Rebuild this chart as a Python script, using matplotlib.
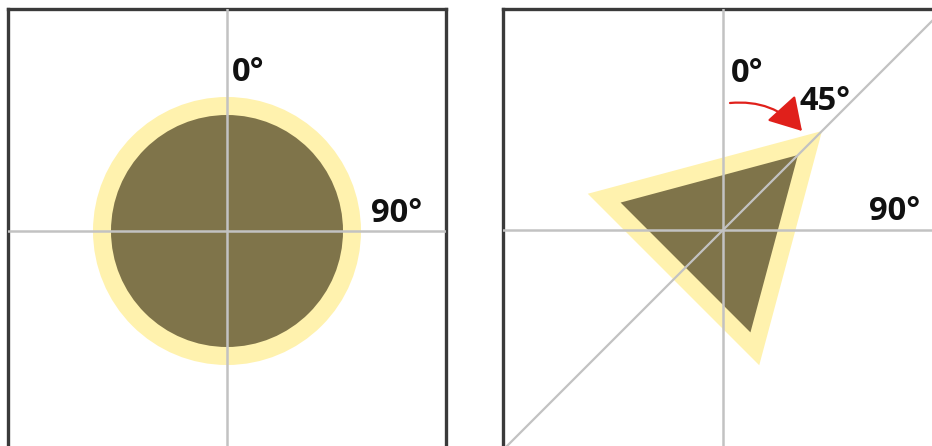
import numpy as np
import matplotlib
matplotlib.use("Agg")
import matplotlib.pyplot as plt
from matplotlib.patches import Circle, Polygon, FancyArrowPatch

# shape sizes (pixels)
circle_outer_r = 134
circle_inner_r = 116
tri_outer_r = 140
tri_inner_r = 106
tri_rotation = 45  # degrees, clockwise from 0° (up)

# labels: text, x, y (offset from panel centre)
left_labels = [("0°", 5, 150), ("90°", 144, 9)]
right_labels = [("0°", 8, 148), ("45°", 76, 120), ("90°", 146, 10)]

dark = "#7f744a"
light = "#fff2ae"
grid_c = "#c2c2c2"
frame_c = "#3a3a3a"


def triangle(r, rot):
    # vertex angles measured clockwise from up
    ang = np.radians(np.array([0, 120, 240]) + rot)
    return np.column_stack([r * np.sin(ang), r * np.cos(ang)])


def setup(ax, xlim, ylim):
    ax.set_xlim(*xlim)
    ax.set_ylim(*ylim)
    ax.set_xticks([])
    ax.set_yticks([])
    for s in ["left", "right", "top"]:
        ax.spines[s].set_color(frame_c)
        ax.spines[s].set_linewidth(2.4)
    ax.spines["bottom"].set_visible(False)
    ax.axhline(0, color=grid_c, lw=1.8, zorder=3)
    ax.axvline(0, color=grid_c, lw=1.8, zorder=3)


fig = plt.figure(figsize=(9.32, 4.46), dpi=100)
W, H = 932, 446

# left panel
ax1 = fig.add_axes([8 / W, 0, 438 / W, 437 / H])
setup(ax1, (-219, 219), (-215, 222))
ax1.add_patch(Circle((0, 0), circle_outer_r, color=light, lw=0, zorder=1))
ax1.add_patch(Circle((0, 0), circle_inner_r, color=dark, lw=0, zorder=2))
for t, x, y in left_labels:
    ax1.text(x, y, t, fontsize=23.5, fontfamily="Open Sans", fontweight="bold",
             color="#111111", ha="left", va="baseline", zorder=5)

# right panel
ax2 = fig.add_axes([503 / W, 0, 438 / W, 437 / H])
setup(ax2, (-220, 218), (-216, 221))
ax2.axline((0, 0), slope=1, color=grid_c, lw=1.6, zorder=3)
ax2.add_patch(Polygon(triangle(tri_outer_r, tri_rotation), closed=True,
                      color=light, lw=0, zorder=1))
ax2.add_patch(Polygon(triangle(tri_inner_r, tri_rotation), closed=True,
                      color=dark, lw=0, zorder=2))
for t, x, y in right_labels:
    ax2.text(x, y, t, fontsize=23.5, fontfamily="Open Sans", fontweight="bold",
             color="#111111", ha="left", va="baseline", zorder=5)

arrow = FancyArrowPatch((7, 127), (79, 99), connectionstyle="arc3,rad=-0.25",
                        arrowstyle="-|>,head_length=1.0,head_width=0.6",
                        mutation_scale=20, color="#e0201b", lw=1.6, zorder=6,
                        shrinkA=0, shrinkB=0)
ax2.add_patch(arrow)

fig.savefig("out.png", dpi=100)
